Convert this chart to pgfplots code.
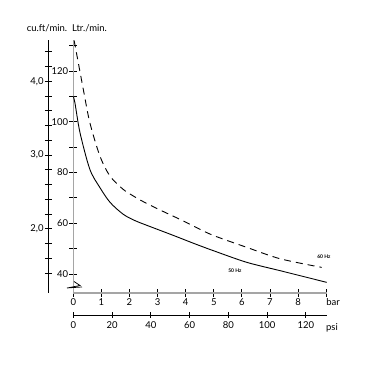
\documentclass[border=0pt]{standalone}
\usepackage{fontspec}
\setmainfont{Lato}
\usepackage{pgfplots}
\pgfplotsset{compat=1.18}
\definecolor{axgray}{RGB}{165,165,165}
\begin{document}
\begin{tikzpicture}[x=1pt,y=1pt]
\useasboundingbox (0,0) rectangle (372,369);
% cu.ft axis
\begin{axis}[at={(48.3pt,76pt)},anchor=south west,scale only axis,
  width=10pt,height=253pt,
  hide x axis, axis y line=left, axis line style={-,black,line width=0.8pt},
  xmin=0,xmax=1,ymin=1.128,ymax=4.56,
  ytick={2,3,4}, minor ytick={1.4,1.6,...,4.45},
  major tick length=7pt, minor tick length=7pt, tick align=center,
  tick style={black,line width=0.8pt},
  yticklabel style={font=\fontsize{9.5}{11}\selectfont, inner sep=1pt},
  /pgf/number format/.cd, fixed, fixed zerofill, precision=1, use comma, assume math mode=true]
\end{axis}
% psi axis
\begin{axis}[at={(73.3pt,54pt)},anchor=south west,scale only axis,
  width=253.4pt,height=10pt,
  hide y axis, axis x line=bottom, axis line style={-,black,line width=0.8pt},
  xmin=0,xmax=130.8,ymin=0,ymax=1,
  xtick={0,20,...,120},
  major tick length=6pt, tick align=center,
  tick style={black,line width=0.8pt},
  xticklabel style={font=\fontsize{9.5}{11}\selectfont, inner sep=1pt, yshift=-2pt},
  /pgf/number format/assume math mode=true]
\end{axis}
% main axis
\begin{axis}[at={(73.3pt,76pt)},anchor=south west,scale only axis,
  width=253.4pt,height=253pt,
  axis x line=bottom, axis y line=left,
  axis line style={-,axgray,line width=1.6pt},
  xmin=0,xmax=9.02,ymin=32.5,ymax=132.2,
  xtick={0,1,...,9}, xticklabels={0,1,2,3,4,5,6,7,8,{}},
  ytick={40,50,...,130}, yticklabels={40,{},60,{},80,{},100,{},120,{}},
  major tick length=8pt, tick align=center,
  tick style={black,line width=0.8pt},
  xticklabel style={font=\fontsize{9.5}{11}\selectfont, inner sep=1pt},
  yticklabel style={font=\fontsize{9.5}{11}\selectfont, inner sep=1pt},
  /pgf/number format/assume math mode=true,
  clip=false]
\addplot[black,line width=0.9pt,smooth,tension=0.5] coordinates {
 (0,110) (0.06,107.3) (0.24,95.6) (0.59,81.2) (0.95,74) (1.31,68.2) (1.78,63.5) (2.2,61) (2.61,59.2) (3.56,55.2) (4.3,52) (4.98,49.2) (6.17,44.6) (7.36,41.3) (9.02,36.7)};
\addplot[black,line width=0.9pt,smooth,tension=0.5,dash pattern=on 7pt off 5pt] coordinates {
 (0.03,132) (0.36,112.5) (0.59,99.6) (0.95,86.4) (1.31,78.5) (1.78,73.3) (2.14,70.7) (2.49,68.5) (3.09,65.2) (3.8,61.5) (4.4,58.2) (4.98,55.2) (6.17,50.5) (7.36,46) (8.84,42.6)};
\node[font=\fontsize{5}{6}\selectfont\bfseries] at (axis cs:8.92,46.7) {60 Hz};
\node[font=\fontsize{5}{6}\selectfont\bfseries] at (axis cs:5.75,41.2) {50 Hz};
\end{axis}
% axis break zigzag
\draw[black,line width=0.7pt] (74,87.5) -- (80,83.5) -- (67,81) -- (82,82);
% labels
\node[font=\fontsize{9.5}{11}\selectfont] at (47,340.7) {cu.ft/min.};
\node[font=\fontsize{9.5}{11}\selectfont] at (89.5,340.7) {Ltr./min.};
\node[font=\fontsize{9.5}{11}\selectfont] at (333,66.5) {bar};
\node[font=\fontsize{9.5}{11}\selectfont] at (332,41.5) {psi};
\end{tikzpicture}
\end{document}
